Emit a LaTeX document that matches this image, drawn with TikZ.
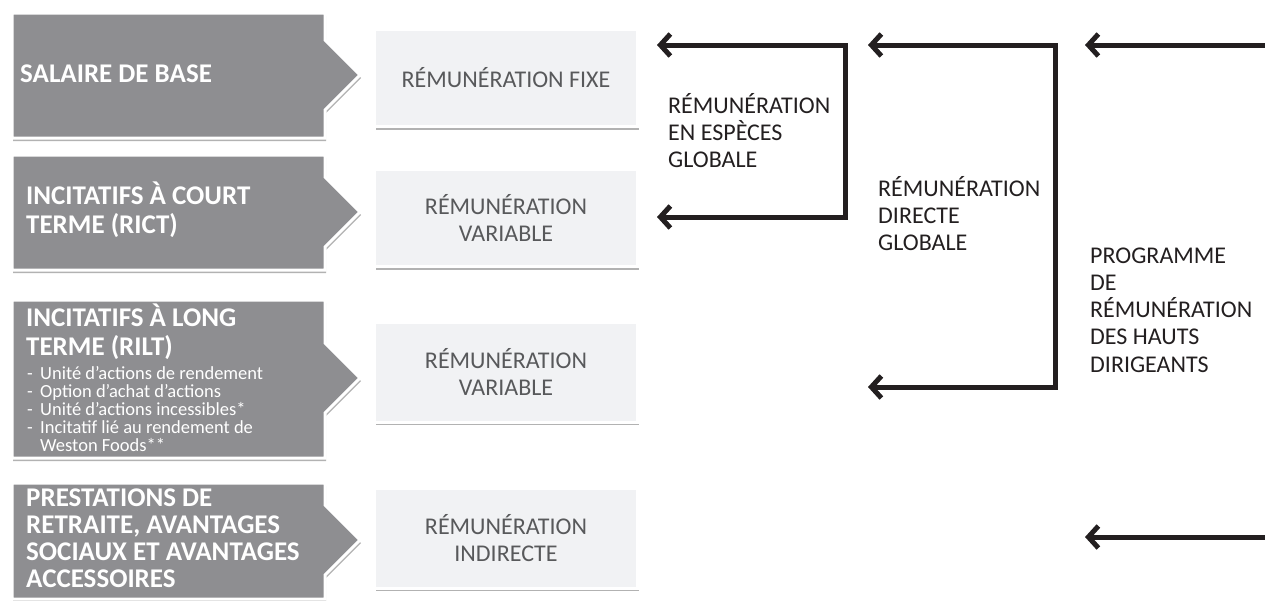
\documentclass[tikz,border=0pt]{standalone}
\usepackage{fontspec}
\setmainfont{Carlito}
\usetikzlibrary{arrows.meta,shadows}
\definecolor{boxgray}{HTML}{8E8E91}
\definecolor{lightfill}{HTML}{F1F2F4}
\definecolor{lighttext}{HTML}{58595B}
\definecolor{ink}{HTML}{231F20}
\tikzset{
  graybox/.style={fill=boxgray, draw=white, line width=3pt, line join=miter,
    drop shadow={shadow xshift=1pt, shadow yshift=-3pt, opacity=0.3, fill=black}},
  lightbox/.style={fill=lightfill, draw=white, line width=3pt, inner sep=0pt,
    minimum width=263pt, align=center, text=lighttext,
    font=\fontsize{24}{26.5}\selectfont,
    drop shadow={shadow xshift=1.5pt, shadow yshift=-3pt, opacity=0.3, fill=black}},
  titletext/.style={text=white, font=\bfseries\fontsize{27}{29.5}\selectfont,
    anchor=base west, align=left, inner sep=0pt},
  bullettext/.style={text=white, font=\fontsize{18.5}{18}\selectfont,
    anchor=base west, align=left, inner sep=0pt},
  labeltext/.style={text=ink, font=\fontsize{24}{27.3}\selectfont,
    anchor=base west, align=left, inner sep=0pt},
  bracket/.style={draw=ink, line width=5pt, line join=miter,
    {Straight Barb[length=10pt,width=22pt]}-{Straight Barb[length=10pt,width=22pt]}},
  single/.style={draw=ink, line width=5pt,
    -{Straight Barb[length=10pt,width=22pt]}}
}
\newcommand\grayshape[3]{%
  \path[graybox] (12,#1) -- (325,#1) -- (325,{#3-35}) -- (360,#3)
    -- (325,{#3+35}) -- (325,#2) -- (12,#2) -- cycle;}
\newcommand\bul{\makebox[13pt][l]{-}}
\begin{document}
\begin{tikzpicture}[x=1pt,y=-1pt]
\useasboundingbox (0,0) rectangle (1265,600);

% left grey arrow boxes
\grayshape{13}{138}{75}
\grayshape{155}{270}{212}
\grayshape{300}{458}{378}
\grayshape{483}{599}{540}

% (base anchor = baseline of the last line)
\node[titletext] (t1) at (20,82) {SALAIRE DE BASE};
\node[titletext] (t2) at (26,233.5) {INCITATIFS À COURT\\TERME (RICT)};
\node[titletext] (t3) at (26,355.5) {INCITATIFS À LONG\\TERME (RILT)};
\node[bullettext] (t3b) at (27,451.5) {\bul Unité d'actions de rendement\\\bul Option d'achat d'actions\\\bul Unité d'actions incessibles*\\\bul Incitatif lié au rendement de\\\hspace*{13pt}Weston Foods**};
\node[titletext, font=\bfseries\fontsize{27}{27}\selectfont] (t4) at (26,587.5) {PRESTATIONS DE\\RETRAITE, AVANTAGES\\SOCIAUX ET AVANTAGES\\ACCESSOIRES};

% light boxes
\node[lightbox, minimum height=97pt] (lb1) at (506,78) {RÉMUNÉRATION FIXE};
\node[lightbox, minimum height=97pt] (lb2) at (506,218) {RÉMUNÉRATION\\VARIABLE};
\node[lightbox, minimum height=100pt] (lb3) at (506,372) {RÉMUNÉRATION\\VARIABLE};
\node[lightbox, minimum height=100pt] (lb4) at (506,538) {RÉMUNÉRATION\\INDIRECTE};

% right labels
\node[labeltext] (l1) at (668,167.6) {RÉMUNÉRATION\\EN ESPÈCES\\GLOBALE};
\node[labeltext] (l2) at (878,250.6) {RÉMUNÉRATION\\DIRECTE\\GLOBALE};
\node[labeltext] (l3) at (1090,372.2) {PROGRAMME\\DE\\RÉMUNÉRATION\\DES HAUTS\\DIRIGEANTS};

% connectors
\coordinate (a1t) at (657,45);
\coordinate (c1t) at (845,45);
\coordinate (c1b) at (845,217);
\coordinate (a1b) at (657,217);
\draw[bracket] (a1t) -- (c1t) -- (c1b) -- (a1b);

\coordinate (a2t) at (868,45);
\coordinate (c2t) at (1055,45);
\coordinate (c2b) at (1055,387);
\coordinate (a2b) at (868,387);
\draw[bracket] (a2t) -- (c2t) -- (c2b) -- (a2b);

\coordinate (r1s) at (1265,45);
\coordinate (r1e) at (1085,45);
\draw[single] (r1s) -- (r1e);
\coordinate (r2s) at (1265,537);
\coordinate (r2e) at (1085,537);
\draw[single] (r2s) -- (r2e);
\end{tikzpicture}
\end{document}
